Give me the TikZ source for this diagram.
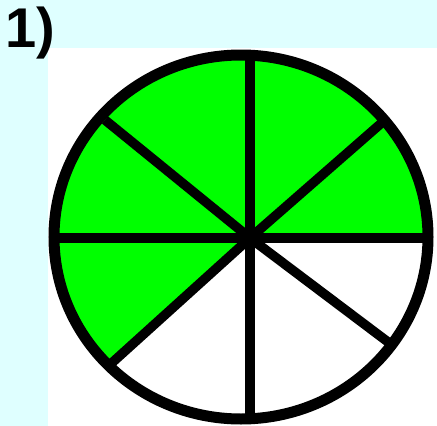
\documentclass[tikz,border=0pt]{standalone}
\usepackage{fontspec}
\setmainfont{Liberation Sans}
\usepackage{tikz}
\usetikzlibrary{calc}
\definecolor{bgcyan}{HTML}{DFFFFF}
\definecolor{fracgreen}{HTML}{00FF00}
\tikzset{
  rimline/.style={draw=black,line width=11pt},
  spokeline/.style={draw=black,line width=9.5pt},
  greenpart/.style={fill=fracgreen},
  numlabel/.style={font=\fontsize{56}{56}\selectfont\bfseries,inner sep=0pt},
}
\begin{document}
\begin{tikzpicture}[x=1pt,y=-1pt]
    \useasboundingbox (0,0) rectangle (437,426);
    \fill[bgcyan] (0,0) rectangle (437,426);
    \fill[white] (48,48) rectangle (437,426);
    \node[numlabel,anchor=base west] (num) at (5,47) {1)};
    % centre of the spokes and their ends on the rim
    \coordinate (O) at (250,238);
    \coordinate (C) at (241,237);
    \coordinate (pT) at (250,55);
    \coordinate (pB) at (250,419);
    \coordinate (pL) at (54,238);
    \coordinate (pR) at (428,238);
    \coordinate (pTL) at (105,120);
    \coordinate (pTR) at (385,120);
    \coordinate (pBL) at ($(C)+(135:187 and 182)$);
    \coordinate (pBR) at (388,342);
    \fill[greenpart] (O) -- (pBL) arc[start angle=135,end angle=360,x radius=187,y radius=182] -- cycle;
    \draw[spokeline] (pT) -- (pB);
    \draw[spokeline] (pL) -- (pR);
    \draw[spokeline] (pTL) -- (O) -- (pBR);
    \draw[spokeline] (pTR) -- (O) -- (pBL);
    \draw[rimline] (C) ellipse[x radius=187,y radius=182];
  \end{tikzpicture}
\end{document}
